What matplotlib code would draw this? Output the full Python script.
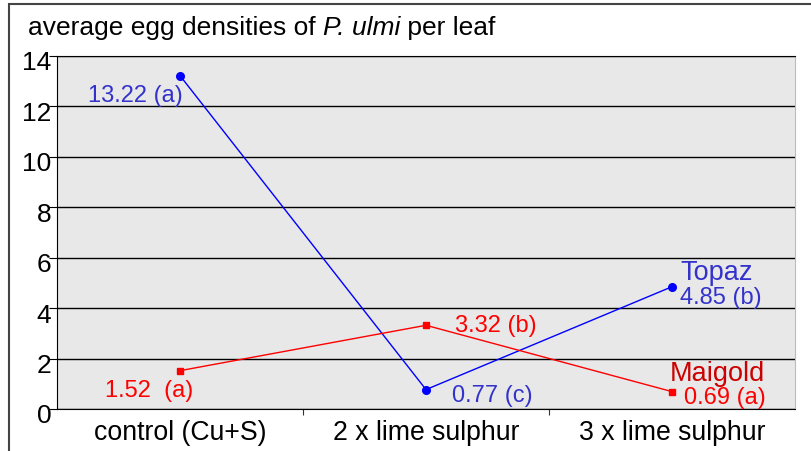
import matplotlib.pyplot as plt
from matplotlib.patches import Rectangle
from matplotlib.transforms import ScaledTranslation

plt.rcParams['font.family'] = ['Liberation Sans', 'DejaVu Sans']

treatments = ['control (Cu+S)', '2 x lime sulphur', '3 x lime sulphur']
topaz = [13.22, 0.77, 4.85]
maigold = [1.52, 3.32, 0.69]
topaz_labels = ['13.22 (a)', '0.77 (c)', '4.85 (b)']
maigold_labels = ['1.52  (a)', '3.32 (b)', '0.69 (a)']

fig = plt.figure(figsize=(8.11, 4.52), dpi=100)
W, H = 811, 452

# outer frame
fig.patches.append(Rectangle((9 / W, -0.1), 1.1, (H - 5) / H + 0.1, transform=fig.transFigure,
                             fill=False, edgecolor='#444444', linewidth=1.5))

ax = fig.add_axes([57 / W, 1 - 410 / H, (795 - 57) / W, (410 - 57) / H])
ax.set_facecolor('#e8e8e8')

x = [0, 1, 2]
ax.plot(x, topaz, color='#0000ff', linewidth=1, marker='o', markersize=5.5, zorder=3)
ax.plot(x, maigold, color='#ff0000', linewidth=1, marker='s', markersize=5, zorder=3)

ax.set_xlim(-0.5, 2.5)
ax.set_ylim(0, 14)
ax.set_yticks(range(0, 15, 2))
ax.yaxis.grid(True, color='black', linewidth=1)
ax.set_axisbelow(True)
ax.set_xticks([0.5, 1.5], minor=False)
ax.set_xticklabels([])
ax.set_xticks(x, minor=True)
ax.set_xticklabels(treatments, minor=True, fontsize=19.2)
ax.tick_params(axis='x', which='minor', length=0, pad=7)
ax.tick_params(axis='x', which='major', length=4, direction='out', color='#333333')
ax.tick_params(axis='y', labelsize=19, length=6, pad=-2)

# y labels sit a little below their ticks in the original
shift = ScaledTranslation(0, -4 / 100, fig.dpi_scale_trans)
for lab in ax.get_yticklabels():
    lab.set_transform(lab.get_transform() + shift)

for s in ['left', 'bottom', 'top']:
    ax.spines[s].set_color('black')
ax.spines['right'].set_color('#bbbbbb')

blue_t = '#3333cc'
red_t = '#ff0000'


def label(xi, yi, s, dx, dy, color, ha, size=17):
    ax.annotate(s, (xi, yi), xytext=(dx, -dy), textcoords='offset pixels',
                color=color, fontsize=size, ha=ha, va='center')


label(0, topaz[0], topaz_labels[0], 3, 19, blue_t, 'right')
label(1, topaz[1], topaz_labels[1], 26, 5, blue_t, 'left')
label(2, topaz[2], topaz_labels[2], 8, 10, blue_t, 'left')
label(2, topaz[2], 'Topaz', 8, -15, blue_t, 'left', 19.5)

label(0, maigold[0], maigold_labels[0], 13, 19, red_t, 'right')
label(1, maigold[1], maigold_labels[1], 29, 0, red_t, 'left')
label(2, maigold[2], maigold_labels[2], 12, 5, red_t, 'left')
label(2, maigold[2], 'Maigold', -2, -19, '#cc0000', 'left', 19.5)

# title with italic species name
fig.canvas.draw()
r = fig.canvas.get_renderer()
parts = [('average egg densities of ', 'normal'), ('P. ulmi', 'italic'), (' per leaf', 'normal')]
tx = 28
for s, st in parts:
    t = fig.text(tx / W, 1 - 28 / H, s, fontsize=19, style=st, ha='left', va='center')
    tx += t.get_window_extent(r).width

fig.savefig('out.png', dpi=100)
